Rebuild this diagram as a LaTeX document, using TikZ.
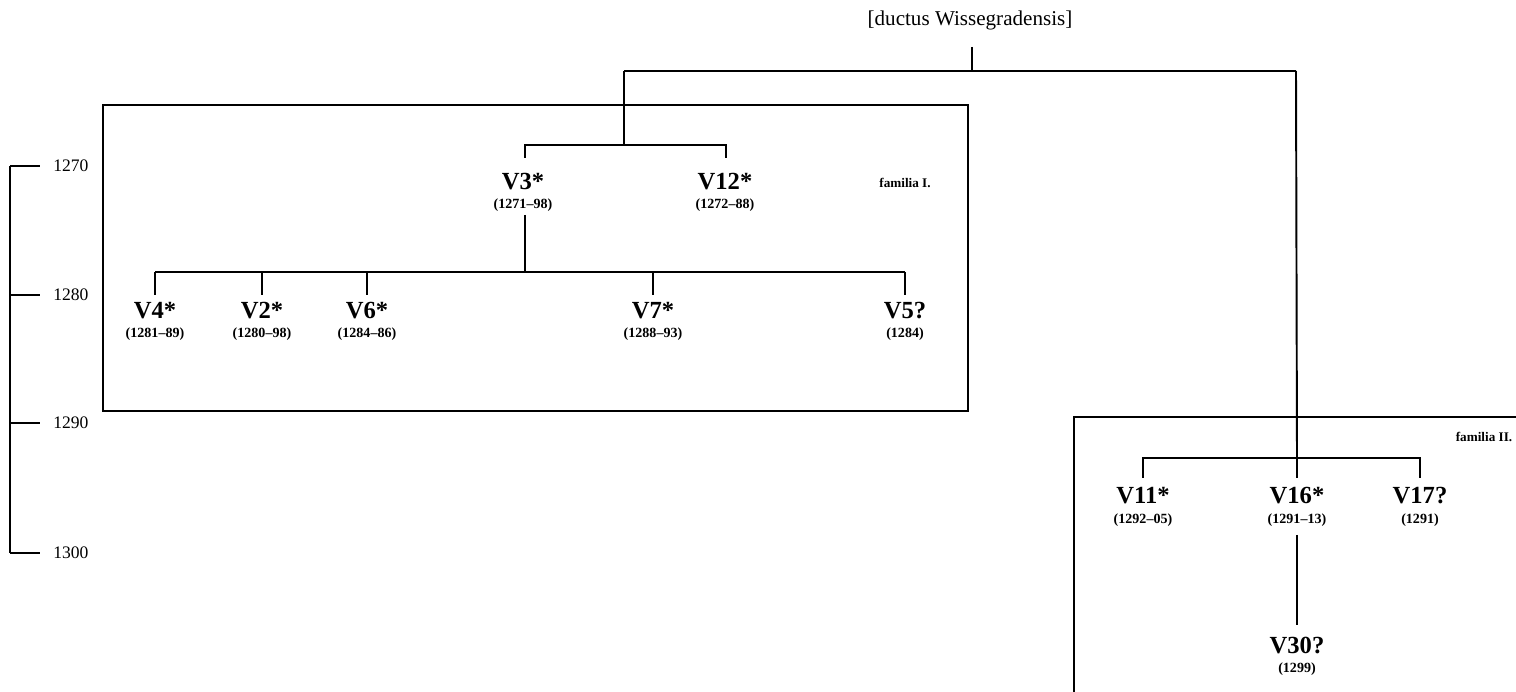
\documentclass[tikz,border=0pt]{standalone}
\usepackage{fontspec}
\setmainfont{Liberation Serif}
\begin{document}
\begin{tikzpicture}[x=0.02cm,y=-0.02cm,
  ln/.style={line width=0.8pt},
  thick ln/.style={line width=1.1pt},
  ms/.style={font=\bfseries\fontsize{14}{14}\selectfont, inner sep=0pt, anchor=base},
  dt/.style={font=\bfseries\fontsize{8}{8}\selectfont, inner sep=0pt, anchor=base},
  yr/.style={font=\fontsize{10}{10}\selectfont, inner sep=0pt, anchor=west},
  fam/.style={font=\bfseries\fontsize{7.5}{7.5}\selectfont, inner sep=0pt}]
\useasboundingbox (0,0) rectangle (1516,692);
% time scale
\coordinate (s70) at (10,166);
\coordinate (s80) at (10,295);
\coordinate (s90) at (10,423);
\coordinate (s00) at (10,553);
\draw[ln] (s70) -- (s00);
\foreach \n/\y/\t in {s70/166/1270,s80/295/1280,s90/423/1290,s00/553/1300}{
  \coordinate (t\n) at (40,\y);
  \draw[ln] (\n) -- (t\n);
  \node[yr] (l\n) at (53,\y) {\t};
}
% boxes
\draw[ln] (103,105) rectangle (968,411);
\draw[ln] (1516,417) -- (1074,417) -- (1074,692);
\node[fam] (fam1) at (905,183) {familia I.};
\node[fam] (fam2) at (1484,437) {familia II.};
% root
\node[font=\fontsize{12}{12}\selectfont, inner sep=0pt] (root) at (970,20) {[ductus Wissegradensis]};
\coordinate (rb) at (972,71);
\draw[thick ln] (972,47) -- (rb);
\coordinate (fa) at (624,71);
\coordinate (fb) at (1296,71);
\draw[thick ln] (fa) -- (fb);
% familia I
\coordinate (f1) at (624,145);
\draw[ln] (fa) -- (f1);
\node[ms] (V3) at (523,190) {V3*};
\node[dt] (V3d) at (523,209) {(1271–98)};
\node[ms] (V12) at (725,190) {V12*};
\node[dt] (V12d) at (725,209) {(1272–88)};
\draw[ln] (525,158) -- (525,145) -- (726,145) -- (726,158);
\coordinate (b2) at (525,272);
\draw[ln] (525,215) -- (b2);
\draw[ln] (155,272) -- (905,272);
\foreach \n/\x/\a/\b in {V4/155/V4*/1281–89, V2/262/V2*/1280–98, V6/367/V6*/1284–86, V7/653/V7*/1288–93, V5/905/V5?/1284}{
  \coordinate (c\n) at (\x,272);
  \node[ms] (\n) at (\x,319) {\a};
  \node[dt] (\n d) at (\x,338) {(\b)};
  \draw[ln] (c\n) -- (\x,295);
}
% familia II
\coordinate (f2) at (1297,458);
\draw[thick ln] (fb) -- (f2);
\draw[ln] (1143,478) -- (1143,458) -- (1420,458) -- (1420,478);
\draw[ln] (f2) -- (1297,478);
\node[ms] (V11) at (1143,504) {V11*};
\node[dt] (V11d) at (1143,524) {(1292–05)};
\node[ms] (V16) at (1297,504) {V16*};
\node[dt] (V16d) at (1297,524) {(1291–13)};
\node[ms] (V17) at (1420,504) {V17?};
\node[dt] (V17d) at (1420,524) {(1291)};
\coordinate (v16b) at (1297,535);
\draw[ln] (v16b) -- (1297,625);
\node[ms] (V30) at (1297,654) {V30?};
\node[dt] (V30d) at (1297,673) {(1299)};
\end{tikzpicture}
\end{document}
